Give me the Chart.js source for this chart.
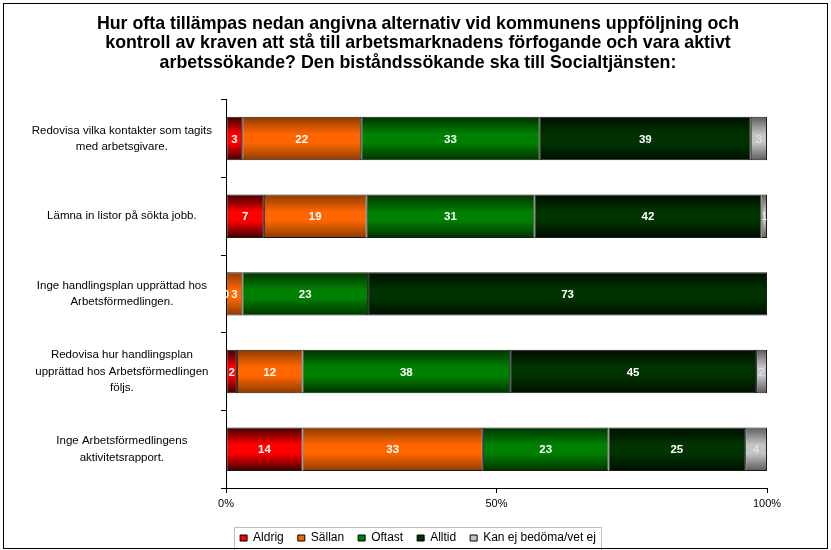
<!DOCTYPE html>
<html>
<head>
<meta charset="utf-8">
<script src="https://cdn.jsdelivr.net/npm/chart.js@4"></script>
<style>
    body { margin: 0; background: #fff; }
    #wrap { position: relative; width: 831px; height: 550px; }
    #frame { position: absolute; left: 3px; top: 3px; width: 825px; height: 546px; border: 1px solid #000; box-sizing: border-box; pointer-events: none; }
</style>
</head>
<body>
<div id="wrap">
    <canvas id="chart" width="831" height="550"></canvas>
    <div id="frame"></div>
</div>
<script>
// Categories (y axis)
const categories = [
    ["Redovisa vilka kontakter som tagits", "med arbetsgivare."],
    ["Lämna in listor på sökta jobb."],
    ["Inge handlingsplan upprättad hos", "Arbetsförmedlingen."],
    ["Redovisa hur handlingsplan", "upprättad hos Arbetsförmedlingen", "följs."],
    ["Inge Arbetsförmedlingens", "aktivitetsrapport."],
];

// Series values (percent)
const aldrig = [3, 7, 0, 2, 14];
const sallan = [22, 19, 3, 12, 33];
const oftast = [33, 31, 23, 38, 23];
const alltid = [39, 42, 73, 45, 25];
const kanEj = [3, 1, 0, 2, 4];

const seriesNames = ["Aldrig", "Sällan", "Oftast", "Alltid", "Kan ej bedöma/vet ej"];
const xTicks = [0, 50, 100];

const titleLines = [
    "Hur ofta tillämpas nedan angivna alternativ vid kommunens uppföljning och",
    "kontroll av kraven att stå till arbetsmarknadens förfogande och vara aktivt",
    "arbetssökande? Den biståndssökande ska till Socialtjänsten:",
];

const allSeries = [aldrig, sallan, oftast, alltid, kanEj];
const rowSums = categories.map((c, i) => allSeries.reduce((s, arr) => s + arr[i], 0));

// [edge, middle] colours of the shaded bars
const shades = [
    ["#3a0000", "#ff0000"],
    ["#8a3a00", "#ff6600"],
    ["#003000", "#008000"],
    ["#000e00", "#003300"],
    ["#5a5a5a", "#c4c4c4"],
];

function shaded(edge, mid) {
    return function (ctx) {
        const chart = ctx.chart;
        const y = chart.scales.y;
        if (!y || ctx.dataIndex === undefined) return mid;
        const c = y.getPixelForValue(ctx.dataIndex);
        const h = 22;
        const g = chart.ctx.createLinearGradient(0, c - h, 0, c + h);
        g.addColorStop(0, edge);
        g.addColorStop(0.4, mid);
        g.addColorStop(0.6, mid);
        g.addColorStop(1, edge);
        return g;
    };
}

// Value labels inside the segments
const valueLabels = {
    id: "valueLabels",
    afterDatasetsDraw(chart) {
        const ctx = chart.ctx;
        ctx.save();
        ctx.textAlign = "center";
        ctx.textBaseline = "middle";
        chart.data.datasets.forEach((ds, di) => {
            const meta = chart.getDatasetMeta(di);
            const isGray = di === 4;
            ctx.font = (isGray ? "" : "bold ") + "11.5px 'Liberation Sans', Arial, sans-serif";
            ctx.fillStyle = isGray ? "#e6e6e6" : "#ffffff";
            meta.data.forEach((bar, i) => {
                if (isGray && ds.raw[i] === 0) return;
                const p = bar.getCenterPoint();
                ctx.fillText(String(ds.raw[i]), p.x, p.y + 1);
            });
        });
        ctx.restore();
    },
};

// let the y labels use the space left of the axis box (no clipping)
const widenY = {
    id: "widenY",
    afterLayout(chart) {
        chart.scales.y.left = 0;
    },
};

// Border round the legend
const legendBox = {
    id: "legendBox",
    afterDraw(chart) {
        const boxes = chart.legend.legendHitBoxes;
        if (!boxes || !boxes.length) return;
        const first = boxes[0];
        const last = boxes[boxes.length - 1];
        const ctx = chart.ctx;
        ctx.save();
        ctx.strokeStyle = "#bdbdbd";
        ctx.lineWidth = 1;
        const x1 = Math.round(first.left) - 5.5;
        const x2 = Math.round(last.left + last.width) + 5.5;
        const y1 = Math.round(first.top) - 4.5;
        const y2 = Math.round(first.top + first.height) + 6.5;
        ctx.strokeRect(x1, y1, x2 - x1, y2 - y1);
        ctx.restore();
    },
};

const datasets = allSeries.map((arr, k) => ({
    label: seriesNames[k],
    raw: arr,
    data: arr.map((v, i) => (v / rowSums[i]) * 100),
    backgroundColor: shaded(shades[k][0], shades[k][1]),
    borderColor: "#1a1a1a",
    borderWidth: 1,
    borderSkipped: false,
    categoryPercentage: 0.56,
    barPercentage: 1,
}));

const font = "'Liberation Sans', Arial, sans-serif";

new Chart(document.getElementById("chart"), {
    type: "bar",
    data: { labels: categories, datasets: datasets },
    options: {
        indexAxis: "y",
        responsive: false,
        animation: false,
        layout: { padding: { left: 69, right: 64, top: 0, bottom: -4 } },
        plugins: {
            title: {
                display: true,
                text: titleLines,
                color: "#000",
                font: { family: font, size: 17.8, weight: "bold", lineHeight: 1.1 },
                padding: { top: 14, bottom: 27 },
            },
            legend: {
                position: "bottom",
                labels: {
                    color: "#000",
                    font: { family: font, size: 12 },
                    boxWidth: 7,
                    boxHeight: 6,
                    padding: 14,
                    generateLabels: function (chart) {
                        return chart.data.datasets.map((ds, i) => ({
                            text: ds.label,
                            fillStyle: shades[i][1],
                            strokeStyle: "#000",
                            lineWidth: 1,
                            fontColor: "#000",
                            datasetIndex: i,
                        }));
                    },
                },
            },
            tooltip: { enabled: false },
        },
        scales: {
            x: {
                stacked: true,
                min: 0,
                max: 100,
                afterBuildTicks: function (scale) {
                    scale.ticks = xTicks.map((v) => ({ value: v }));
                },
                afterFit: function (scale) {
                    scale.height = 30;
                },
                grid: { drawOnChartArea: false, drawTicks: true, tickLength: 5, color: "#000" },
                border: { display: true, color: "#000", width: 1 },
                ticks: {
                    color: "#000",
                    font: { family: font, size: 11 },
                    padding: 4,
                    maxRotation: 0,
                    callback: (v) => v + "%",
                },
            },
            y: {
                stacked: true,
                afterFit: function (scale) {
                    scale.width = 157;
                },
                grid: { drawOnChartArea: false, drawTicks: true, tickLength: 5, color: "#000", offset: true },
                border: { display: true, color: "#000", width: 1 },
                ticks: {
                    color: "#000",
                    font: { family: font, size: 11.5, lineHeight: 1.43 },
                    crossAlign: "center",
                    padding: 9,
                },
            },
        },
    },
    plugins: [valueLabels, widenY, legendBox],
});
</script>
</body>
</html>
